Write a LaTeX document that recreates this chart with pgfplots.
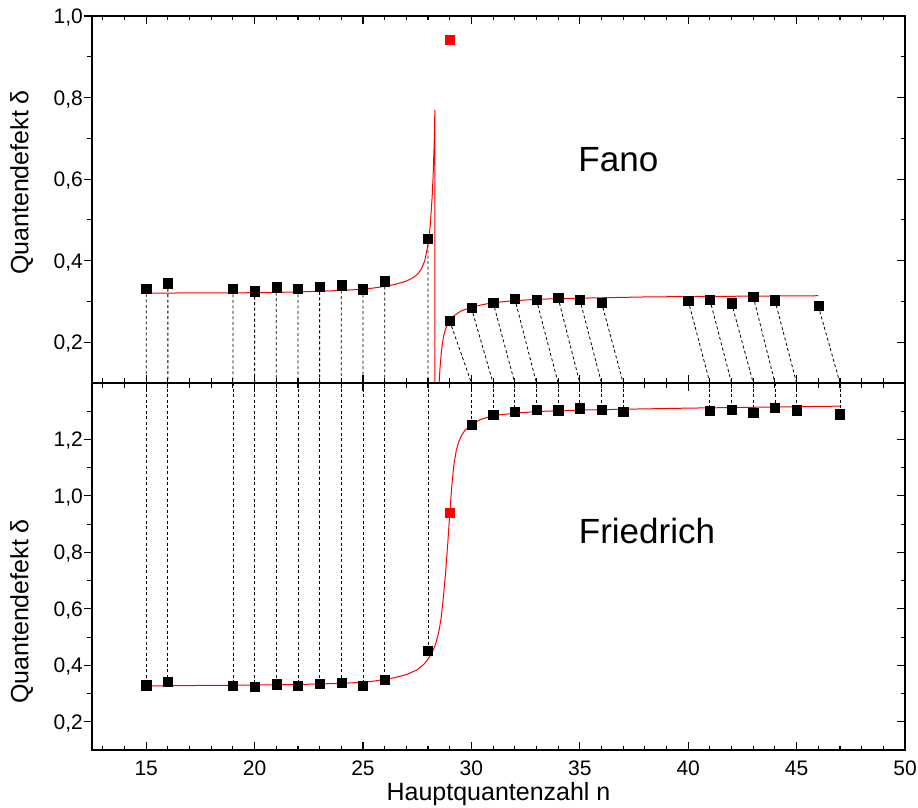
\documentclass[border=0pt]{standalone}
\usepackage{fontspec}
\setmainfont{Liberation Sans}
\usepackage{pgfplots}
\pgfplotsset{compat=1.18}
\definecolor{fitred}{RGB}{255,0,0}
\pgfplotsset{
  panel/.style={
    scale only axis, width=813pt, height=367pt,
    xmin=12.5, xmax=50,
    xtick={15,20,25,30,35,40,45,50},
    minor xtick={13,14,16,17,18,19,21,22,23,24,26,27,28,29,31,32,33,34,36,37,38,39,41,42,43,44,46,47,48,49},
    major tick length=8pt, minor tick length=4.5pt,
    tick style={black, line width=1.1pt},
    axis line style={line width=1.6pt},
    /pgf/number format/assume math mode=true,
    tick label style={font=\fontsize{21}{25}\selectfont},
    label style={font=\fontsize{25}{30}\selectfont},
    clip mode=individual,
  },
  leftaxis/.style={
    panel, hide x axis, axis y line*=left, tick align=outside,
    yticklabel style={anchor=base east, inner sep=0pt, yshift=-7.5pt, xshift=-1pt,
      /pgf/number format/.cd, fixed, fixed zerofill, precision=1, use comma, assume math mode=true},
  },
  mainaxis/.style={
    panel, tick align=inside, ytick pos=right, yticklabels={},
    xticklabel style={anchor=north, inner sep=0pt, yshift=-11pt},
  },
  dashes/.style={black, line width=0.8pt, dash pattern=on 3pt off 2.5pt, unbounded coords=jump},
  fit/.style={fitred, line width=1pt},
  blk/.style={only marks, mark=square*, mark size=4.6pt, mark options={fill=black, draw=black, line width=0.3pt}},
  red/.style={only marks, mark=square*, mark size=4.6pt, mark options={fill=fitred, draw=fitred}},
}
\begin{document}
\begin{tikzpicture}
% ---------------- top panel (Fano) ----------------
\begin{axis}[leftaxis, at={(0pt,367pt)}, anchor=south west,
  ymin=0.1, ymax=1.0, ytick={0.2,0.4,0.6,0.8,1.0}, minor ytick={0.3,0.5,0.7,0.9},
  ylabel={Quantendefekt δ},
  ylabel style={at={(rel axis cs:-0.0866,0.5463)}, anchor=center, inner sep=0pt}]
\end{axis}
\begin{axis}[mainaxis, at={(0pt,367pt)}, anchor=south west,
  ymin=0.1, ymax=1.0, ytick={0.2,0.4,0.6,0.8,1.0}, minor ytick={0.3,0.5,0.7,0.9},
  xticklabels={}]
\addplot[dashes] coordinates {
(15,0.332)(15,0.1)(15,nan)
(16,0.345)(16,0.1)(16,nan)
(19,0.331)(19,0.1)(19,nan)
(20,0.325)(20,0.1)(20,nan)
(21,0.335)(21,0.1)(21,nan)
(22,0.331)(22,0.1)(22,nan)
(23,0.337)(23,0.1)(23,nan)
(24,0.340)(24,0.1)(24,nan)
(25,0.330)(25,0.1)(25,nan)
(26,0.350)(26,0.1)(26,nan)
(28,0.453)(28,0.1)(28,nan)
(29,0.252)(30,0.1)(30,nan)
(30,0.284)(31,0.1)(31,nan)
(31,0.298)(32,0.1)(32,nan)
(32,0.307)(33,0.1)(33,nan)
(33,0.304)(34,0.1)(34,nan)
(34,0.309)(35,0.1)(35,nan)
(35,0.305)(36,0.1)(36,nan)
(36,0.298)(37,0.1)(37,nan)
(40,0.302)(41,0.1)(41,nan)
(41,0.304)(42,0.1)(42,nan)
(42,0.296)(43,0.1)(43,nan)
(43,0.312)(44,0.1)(44,nan)
(44,0.303)(45,0.1)(45,nan)
(46,0.289)(47,0.1)
};
\addplot[fit] coordinates {
(15,0.320)(17,0.321)(19,0.321)(21,0.322)(23,0.325)(24,0.327)(25,0.330)(25.5,0.333)
(26,0.337)(26.5,0.342)(27,0.350)(27.3,0.358)(27.5,0.366)(27.7,0.380)(27.85,0.400)
(28.0,0.440)(28.1,0.485)(28.19,0.557)(28.24,0.615)(28.28,0.680)(28.30,0.725)(28.315,0.77)(28.32,-0.5)
};
\addplot[fit] coordinates {
(28.49,-0.5)(28.51,0.10)(28.55,0.135)(28.60,0.168)(28.65,0.192)(28.72,0.215)(28.80,0.231)
(28.90,0.244)(29.0,0.253)(29.2,0.265)(29.5,0.276)(30,0.286)(30.5,0.292)(31,0.297)(32,0.302)
(33,0.305)(34,0.307)(36,0.309)(38,0.311)(40,0.312)(43,0.313)(46,0.314)
};
\addplot[blk] coordinates {
(15,0.332)(16,0.345)(19,0.331)(20,0.325)(21,0.335)(22,0.331)(23,0.337)(24,0.340)(25,0.330)
(26,0.350)(28,0.453)(29,0.252)(30,0.284)(31,0.298)(32,0.307)(33,0.304)(34,0.309)(35,0.305)
(36,0.298)(40,0.302)(41,0.304)(42,0.296)(43,0.312)(44,0.303)(46,0.289)
};
\addplot[red] coordinates {(29,0.941)};
\node[anchor=base west, inner sep=0pt, font=\fontsize{35}{42}\selectfont] at (axis cs:34.93,0.618) {Fano};
\end{axis}
% ---------------- bottom panel (Friedrich) ----------------
\begin{axis}[leftaxis, at={(0pt,0pt)}, anchor=south west,
  ymin=0.1, ymax=1.4, ytick={0.2,0.4,0.6,0.8,1.0,1.2}, minor ytick={0.3,0.5,0.7,0.9,1.1,1.3},
  ylabel={Quantendefekt δ},
  ylabel style={at={(rel axis cs:-0.0866,0.3774)}, anchor=center, inner sep=0pt}]
\end{axis}
\begin{axis}[mainaxis, at={(0pt,0pt)}, anchor=south west,
  ymin=0.1, ymax=1.4, ytick={0.2,0.4,0.6,0.8,1.0,1.2}, minor ytick={0.3,0.5,0.7,0.9,1.1,1.3},
  xlabel={Hauptquantenzahl n},
  xlabel style={at={(rel axis cs:0.5,-0.1381)}, anchor=base, inner sep=0pt}]
\addplot[dashes] coordinates {
(15,1.4)(15,0.330)(15,nan)
(16,1.4)(16,0.343)(16,nan)
(19,1.4)(19,0.329)(19,nan)
(20,1.4)(20,0.323)(20,nan)
(21,1.4)(21,0.333)(21,nan)
(22,1.4)(22,0.329)(22,nan)
(23,1.4)(23,0.335)(23,nan)
(24,1.4)(24,0.338)(24,nan)
(25,1.4)(25,0.329)(25,nan)
(26,1.4)(26,0.349)(26,nan)
(28,1.4)(28,0.453)(28,nan)
(30,1.4)(30,1.253)(30,nan)
(31,1.4)(31,1.288)(31,nan)
(32,1.4)(32,1.299)(32,nan)
(33,1.4)(33,1.307)(33,nan)
(34,1.4)(34,1.304)(34,nan)
(35,1.4)(35,1.311)(35,nan)
(36,1.4)(36,1.305)(36,nan)
(37,1.4)(37,1.298)(37,nan)
(41,1.4)(41,1.302)(41,nan)
(42,1.4)(42,1.305)(42,nan)
(43,1.4)(43,1.295)(43,nan)
(44,1.4)(44,1.312)(44,nan)
(45,1.4)(45,1.304)(45,nan)
(47,1.4)(47,1.290)
};
\addplot[fit] coordinates {
(15,0.327)(18,0.329)(20,0.330)(22,0.332)(24,0.336)(25,0.340)(25.5,0.344)(26,0.350)(26.5,0.357)
(27,0.367)(27.5,0.384)(27.8,0.403)(28.0,0.422)(28.2,0.448)(28.35,0.475)(28.5,0.52)(28.6,0.565)
(28.7,0.635)(28.8,0.72)(28.9,0.82)(29.0,0.935)(29.1,1.040)(29.2,1.115)(29.3,1.160)(29.4,1.188)
(29.55,1.215)(29.7,1.232)(30.0,1.252)(30.4,1.270)(30.8,1.280)(31.3,1.287)(32,1.293)(33,1.299)
(35,1.304)(37,1.307)(40,1.311)(44,1.315)(47,1.318)
};
\addplot[blk] coordinates {
(15,0.330)(16,0.343)(19,0.329)(20,0.323)(21,0.333)(22,0.329)(23,0.335)(24,0.338)(25,0.329)
(26,0.349)(28,0.453)(30,1.253)(31,1.288)(32,1.299)(33,1.307)(34,1.304)(35,1.311)(36,1.305)
(37,1.298)(41,1.302)(42,1.305)(43,1.295)(44,1.312)(45,1.304)(47,1.290)
};
\addplot[red] coordinates {(29,0.941)};
\node[anchor=base west, inner sep=0pt, font=\fontsize{35}{42}\selectfont] at (axis cs:34.95,0.832) {Friedrich};
\end{axis}
\pgfresetboundingbox
\useasboundingbox (-92pt,-57pt) rectangle (826pt,750pt);
\end{tikzpicture}
\end{document}
